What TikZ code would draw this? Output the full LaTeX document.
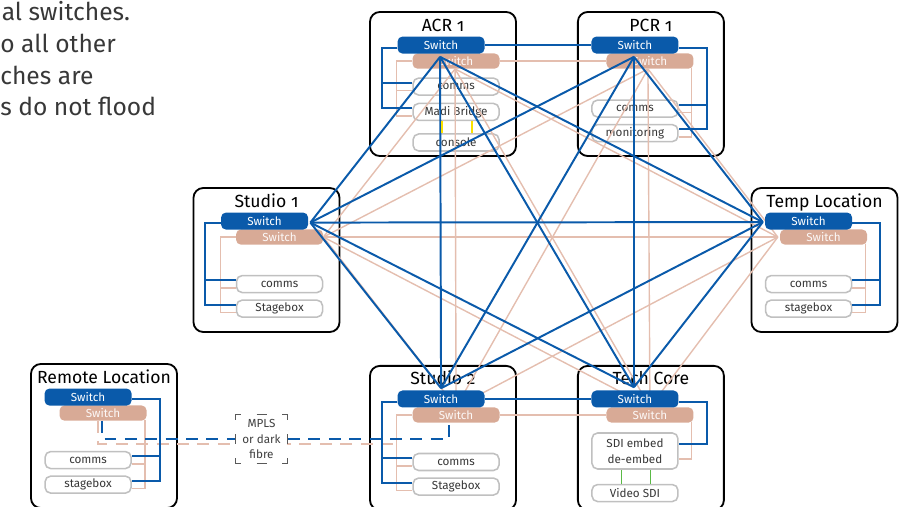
\documentclass[tikz,border=0pt]{standalone}
\usepackage{fontspec}
\setmainfont{Fira Sans}[Numbers=OldStyle]
\usetikzlibrary{positioning,calc}

\definecolor{netblue}{RGB}{10,90,170}
\definecolor{netpink}{RGB}{228,190,175}
\definecolor{swpink}{RGB}{216,170,150}
\definecolor{boxgray}{RGB}{192,192,192}
\definecolor{textgray}{RGB}{55,55,55}
\definecolor{linkyellow}{RGB}{250,225,0}
\definecolor{linkgreen}{RGB}{90,185,70}

\begin{document}
\begin{tikzpicture}[x=0.025cm, y=-0.025cm, node distance=1.5cm,
  font=\fontsize{8.3}{11}\selectfont, text=textgray,
  room/.style={draw=black, line width=1.3pt, rounded corners=7pt,
    minimum width=3.65cm, minimum height=3.6cm, inner sep=0},
  roomtitle/.style={anchor=base, inner sep=0, text=black,
    font=\fontsize{12.5}{15}\selectfont},
  bswitch/.style={fill=netblue, text=white, rounded corners=3.5pt,
    minimum width=2.175cm, minimum height=0.425cm, inner sep=0},
  pswitch/.style={fill=swpink, text=white!92!swpink, rounded corners=3.5pt,
    minimum width=2.175cm, minimum height=0.38cm, inner sep=0},
  device/.style={draw=boxgray, fill=white, line width=1.1pt, rounded corners=4pt,
    minimum width=2.15cm, minimum height=0.425cm, inner sep=0},
  note/.style={anchor=base west, inner sep=0, text=black!78,
    font=\fontsize{17.5}{22}\selectfont},
  bline/.style={netblue, line width=1.4pt},
  pline/.style={netpink, line width=1pt},
  wan/.style={dash pattern=on 8.5pt off 6pt},
  frametick/.style={black!65, line width=1.1pt},
]
    \useasboundingbox (0,0) rectangle (906,506);
    %
    \node[note] (note1) at (1.5,21) {al switches.};
    \node[note] (note2) at (0,52.5) {o all other};
    \node[note] (note3) at (0,84) {ches are};
    \node[note] (note4) at (0,115.5) {s do not flood};
    %
    \node[room] (acr) at (443,84) {};
    \node[room, right=of acr] (pcr) {};
    \node[room] (st1) at (266.5,260) {};
    \node[room] (temp) at (824.5,260) {};
    \node[room, below=5.2cm of acr] (st2) {};
    \node[room, right=of st2] (core) {};
    \node[room] (remote) at (104,436) {};
    %
    \node[roomtitle] (acr_title) at ($(acr.north)+(0,20)$) {ACR 1};
    \node[roomtitle] (pcr_title) at ($(pcr.north)+(0,20)$) {PCR 1};
    \node[roomtitle] (st1_title) at ($(st1.north)+(0,20)$) {Studio 1};
    \node[roomtitle] (temp_title) at ($(temp.north)+(0,20)$) {Temp Location};
    \node[roomtitle] (st2_title) at ($(st2.north)+(0,20)$) {Studio 2};
    \node[roomtitle] (core_title) at ($(core.north)+(0,20)$) {Tech Core};
    \node[roomtitle] (remote_title) at ($(remote.north)+(0,20)$) {Remote Location};
    %
    \node[device] (acr_comms) at ($(acr.north west)+(87,75.5)$) {comms};
    \node[device, below=0.17cm of acr_comms] (acr_madi) {Madi Bridge};
    \node[device, below=0.3cm of acr_madi] (acr_console) {console};
    \node[device] (pcr_comms) at ($(pcr.north west)+(58,97.5)$) {comms};
    \node[device, below=0.15cm of pcr_comms] (pcr_mon) {monitoring};
    \node[device] (st1_comms) at ($(st1.north west)+(87,97)$) {comms};
    \node[device, below=0.15cm of st1_comms] (st1_stage) {Stagebox};
    \node[device] (temp_comms) at ($(temp.north west)+(58,97)$) {comms};
    \node[device, below=0.15cm of temp_comms] (temp_stage) {stagebox};
    \node[device] (remote_comms) at ($(remote.north west)+(58,97)$) {comms};
    \node[device, below=0.15cm of remote_comms] (remote_stage) {stagebox};
    \node[device] (st2_comms) at ($(st2.north west)+(87,97)$) {comms};
    \node[device, below=0.15cm of st2_comms] (st2_stage) {Stagebox};
    \node[device, minimum height=0.9cm, align=center] (core_sdi) at ($(core.north west)+(58,86)$) {SDI embed\\de-embed};
    \node[device, below=0.35cm of core_sdi] (core_video) {Video SDI};
    %
    \node[pswitch] (acr_psw) at ($(acr.north west)+(87,50)$) {Switch};
    \node[pswitch] (pcr_psw) at ($(pcr.north west)+(73,50)$) {Switch};
    \node[pswitch] (st1_psw) at ($(st1.north west)+(87,50)$) {Switch};
    \node[pswitch] (temp_psw) at ($(temp.north west)+(73,50)$) {Switch};
    \node[pswitch] (remote_psw) at ($(remote.north west)+(73,50)$) {Switch};
    \node[pswitch] (st2_psw) at ($(st2.north west)+(87,50)$) {Switch};
    \node[pswitch] (core_psw) at ($(core.north west)+(73,50)$) {Switch};
    %
    % second (pink) network
    \draw[pline] (acr_psw.west) -- ++(-15.5,0) |- ($(acr_madi.west)+(0,4)$);
    \draw[pline] ($(acr_comms.west)+(0,4)$) -- ++(-16,0);
    \draw[pline] (st1_psw.west) -- ++(-15.5,0) |- ($(st1_stage.west)+(0,4)$);
    \draw[pline] ($(st1_comms.west)+(0,4)$) -- ++(-16,0);
    \draw[pline] (st2_psw.west) -- ++(-15.5,0) |- ($(st2_stage.west)+(0,4)$);
    \draw[pline] ($(st2_comms.west)+(0,4)$) -- ++(-16,0);
    \draw[pline] ($(pcr_psw.south east)+(-2,-1)$) |- ($(pcr_mon.east)+(0,4)$);
    \draw[pline] ($(pcr_comms.east)+(0,4)$) -- ++(13.5,0);
    \draw[pline] ($(temp_psw.south east)+(-2,-1)$) |- ($(temp_stage.east)+(0,4)$);
    \draw[pline] ($(temp_comms.east)+(0,4)$) -- ++(13.5,0);
    \draw[pline] ($(remote_psw.south east)+(-2,-1)$) |- ($(remote_stage.east)+(0,4)$);
    \draw[pline] ($(remote_comms.east)+(0,4)$) -- ++(13.5,0);
    \draw[pline] ($(core_psw.south east)+(-2,-1)$) |- ($(core_sdi.east)+(0,8)$);
    %
    \coordinate (acr_p) at ($(acr_psw.south)+(-1,0)$);
    \coordinate (pcr_p) at ($(pcr_psw.south)+(-2,0)$);
    \coordinate (st1_p) at (st1_psw.east);
    \coordinate (temp_p) at ($(temp_psw.west)+(-2,0)$);
    \coordinate (st2_p) at (st2_psw.north);
    \coordinate (core_p) at (core_psw.north);
    %
    \draw[pline] (acr_psw.east) -- (pcr_psw.west);
    \draw[pline] (st2_psw.east) -- (core_psw.west);
    \draw[pline] (acr_p) -- (st1_p);
    \draw[pline] (acr_p) -- (temp_p);
    \draw[pline] (acr_p) -- (st2_p);
    \draw[pline] (acr_p) -- (core_p);
    \draw[pline] (pcr_p) -- (st1_p);
    \draw[pline] (pcr_p) -- (temp_p);
    \draw[pline] (pcr_p) -- (st2_p);
    \draw[pline] (pcr_p) -- (core_p);
    \draw[pline] (st1_p) -- (temp_p);
    \draw[pline] (st1_p) -- (st2_p);
    \draw[pline] (st1_p) -- (core_p);
    \draw[pline] (temp_p) -- (st2_p);
    \draw[pline] (temp_p) -- (core_p);
    \draw[pline, wan] ($(remote_psw.south)+(-5,0)$) |- ($(st2_psw.south west)+(-15.5,21)$);
    %
    \node[bswitch] (acr_sw) at ($(acr.north west)+(72,34)$) {Switch};
    \node[bswitch] (pcr_sw) at ($(pcr.north west)+(58,34)$) {Switch};
    \node[bswitch] (st1_sw) at ($(st1.north west)+(72,34)$) {Switch};
    \node[bswitch] (temp_sw) at ($(temp.north west)+(58,34)$) {Switch};
    \node[bswitch] (remote_sw) at ($(remote.north west)+(58,34)$) {Switch};
    \node[bswitch] (st2_sw) at ($(st2.north west)+(72,34)$) {Switch};
    \node[bswitch] (core_sw) at ($(core.north west)+(58,34)$) {Switch};
    %
    % main (blue) network
    \draw[bline] ($(acr_sw.west)+(0,3)$) -- ++(-15.5,0) |- ($(acr_madi.west)+(0,-4)$);
    \draw[bline] ($(acr_comms.west)+(0,-4)$) -- ++(-31,0);
    \draw[bline] ($(st1_sw.west)+(0,2)$) -- ++(-15.5,0) |- ($(st1_stage.west)+(0,-4)$);
    \draw[bline] ($(st1_comms.west)+(0,-4)$) -- ++(-31,0);
    \draw[bline] ($(st2_sw.west)+(0,3)$) -- ++(-15.5,0) |- ($(st2_stage.west)+(0,-4)$);
    \draw[bline] ($(st2_comms.west)+(0,-4)$) -- ++(-31,0);
    \draw[bline] ($(pcr_sw.east)+(0,3)$) -- ++(28,0) |- ($(pcr_mon.east)+(0,-4)$);
    \draw[bline] ($(pcr_comms.east)+(0,-4)$) -- ++(28,0);
    \draw[bline] ($(temp_sw.east)+(0,2)$) -- ++(28,0) |- ($(temp_stage.east)+(0,-4)$);
    \draw[bline] ($(temp_comms.east)+(0,-4)$) -- ++(28,0);
    \draw[bline] ($(remote_sw.east)+(0,2)$) -- ++(28,0) |- ($(remote_stage.east)+(0,-4)$);
    \draw[bline] ($(remote_comms.east)+(0,-4)$) -- ++(28,0);
    \draw[bline] ($(core_sw.east)+(0,3)$) -- ++(28,0) |- ($(core_sdi.east)+(0,-7)$);
    %
    \coordinate (acr_b) at ($(acr_sw.south)+(-1,3)$);
    \coordinate (pcr_b) at ($(pcr_sw.south)+(-1,3)$);
    \coordinate (st1_b) at ($(st1_sw.east)+(2,1.5)$);
    \coordinate (temp_b) at ($(temp_sw.west)+(-2,1)$);
    \coordinate (st2_b) at ($(st2_sw.north)+(0,-2)$);
    \coordinate (core_b) at ($(core_sw.north)+(-1,-3)$);
    %
    \draw[bline] (acr_sw.east) -- (pcr_sw.west);
    \draw[bline] (st2_sw.east) -- (core_sw.west);
    \draw[bline] (acr_b) -- (st1_b);
    \draw[bline] (acr_b) -- (temp_b);
    \draw[bline] (acr_b) -- (st2_b);
    \draw[bline] (acr_b) -- (core_b);
    \draw[bline] (pcr_b) -- (st1_b);
    \draw[bline] (pcr_b) -- (temp_b);
    \draw[bline] (pcr_b) -- (st2_b);
    \draw[bline] (pcr_b) -- (core_b);
    \draw[bline] (st1_b) -- (temp_b);
    \draw[bline] (st1_b) -- (st2_b);
    \draw[bline] (st1_b) -- (core_b);
    \draw[bline] (temp_b) -- (st2_b);
    \draw[bline] (temp_b) -- (core_b);
    \draw[bline, wan] ($(remote_psw.south)+(-1,0)$) |- ($(st2_psw.south)+(-7,16)$) -- ($(st2_psw.south)+(-7,0)$);
    %
    \draw[linkyellow, line width=1.1pt] ($(acr_madi.south)+(-14,0)$) -- ($(acr_console.north)+(-14,0)$);
    \draw[linkyellow, line width=1.1pt] ($(acr_madi.south)+(16,0)$) -- ($(acr_console.north)+(16,0)$);
    \draw[linkgreen, line width=1.1pt] ($(core_sdi.south)+(-13.5,0)$) -- ($(core_video.north)+(-13.5,0)$);
    \draw[linkgreen, line width=1.1pt] ($(core_sdi.south)+(15.5,0)$) -- ($(core_video.north)+(15.5,0)$);
    %
    \node[fill=white, align=center, inner sep=0, minimum width=1.275cm, minimum height=1.2cm, text=black!75] (mpls) at (261.5,439) {MPLS\\or dark\\fibre};
    \draw[frametick] ($(mpls.north west)+(0,5)$) |- ++(5,-5);
    \draw[frametick] ($(mpls.north east)+(-5,0)$) -| ++(5,5);
    \draw[frametick] ($(mpls.south west)+(0,-5)$) |- ++(5,5);
    \draw[frametick] ($(mpls.south east)+(-5,0)$) -| ++(5,-5);
    \draw[frametick] ($(mpls.north)+(-5,0)$) -- ++(10,0);
    \draw[frametick] ($(mpls.south)+(-5,0)$) -- ++(10,0);
    \draw[frametick] ($(mpls.west)+(0,-5)$) -- ++(0,10);
    \draw[frametick] ($(mpls.east)+(0,-5)$) -- ++(0,10);
\end{tikzpicture}
\end{document}
